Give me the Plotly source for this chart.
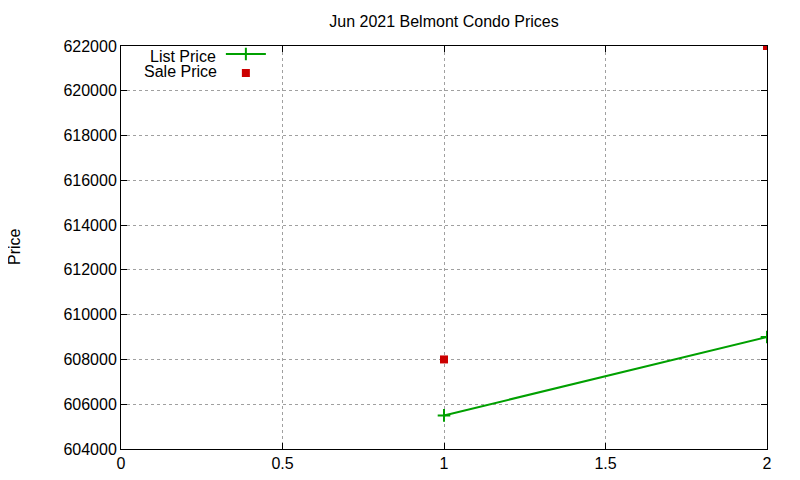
import plotly.graph_objs as go

months = [1, 2]
list_price = [605500, 609000]
sale_price = [608000, 622000]

title = 'Jun 2021 Belmont Condo Prices'
font = 'Liberation Sans, Arial, sans-serif'

# plot box in screen px (page body adds ~7px offset)
left, right, top, bottom = 113, 759, 38, 441

list_trace = go.Scatter(x=months, y=list_price, name=' ', mode='lines+markers',
                        line=dict(color='#00a000', width=2),
                        marker=dict(symbol='cross-thin', size=9, line=dict(color='#00a000', width=2)))
sale_trace = go.Scatter(x=months, y=sale_price, name=' ', mode='markers',
                        marker=dict(symbol='square', size=8, color='#cc0000'))

axis_style = dict(showline=True, mirror='ticks', linecolor='black', linewidth=1,
                  ticks='inside', ticklen=6, tickcolor='black',
                  showgrid=True, gridcolor='#a0a0a0', griddash='dot', gridwidth=1,
                  zeroline=False, automargin=False, tickfont=dict(size=16, color='black'))

pw = right - left
ph = bottom - top

layout = go.Layout(
    title=dict(text=title, x=0.5, xref='paper', xanchor='center', y=1 - 13 / 480, yanchor='middle',
               font=dict(size=16, color='black')),
    font=dict(family=font, color='black'),
    width=800, height=480,
    margin=dict(l=left, r=800 - right, t=top, b=480 - bottom),
    paper_bgcolor='white', plot_bgcolor='white',
    xaxis=dict(range=[0, 2], tickvals=[0, 0.5, 1, 1.5, 2], **axis_style),
    yaxis=dict(range=[604000, 622000], dtick=2000, tickformat='d', **axis_style),
    legend=dict(x=0.1546, y=1.016, xanchor='left', yanchor='top', bgcolor='rgba(0,0,0,0)',
                font=dict(size=8), tracegroupgap=0, itemwidth=40),
    annotations=[
        dict(text='Price', xref='paper', yref='paper', x=(14 - 120) / pw, y=1 - (246 - 45) / ph,
             xanchor='center', yanchor='middle', textangle=-90, showarrow=False,
             borderpad=0, font=dict(size=16)),
        dict(text='List Price', xref='paper', yref='paper', x=(216 - 120) / pw, y=1 - (55 - 45) / ph,
             xanchor='right', yanchor='middle', showarrow=False, borderpad=0, font=dict(size=16)),
        dict(text='Sale Price', xref='paper', yref='paper', x=(217 - 120) / pw, y=1 - (71 - 45) / ph,
             xanchor='right', yanchor='middle', showarrow=False, borderpad=0, font=dict(size=16)),
    ],
)

fig = go.Figure(data=[list_trace, sale_trace], layout=layout)
fig.write_html('out.html')
